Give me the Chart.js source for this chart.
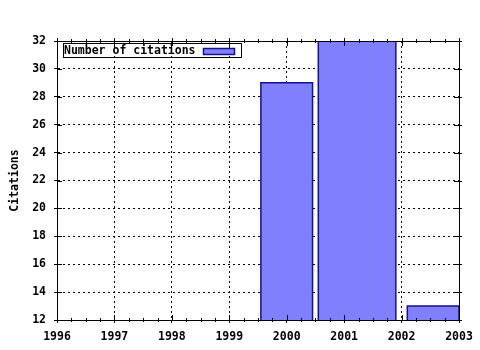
<!DOCTYPE html>
<html>
<head>
<meta charset="utf-8">
<script src="https://cdn.jsdelivr.net/npm/chart.js@4"></script>
<style>
  html, body { margin: 0; padding: 0; background: #fff; }
  #wrap { width: 480px; height: 350px; }
</style>
</head>
<body>
<div id="wrap"><canvas id="chart"></canvas></div>
<script>
// citation counts, boxes run from barStart to barEnd (years)
const barStart = [1999.55, 2000.55, 2002.1];
const barEnd = [2000.45, 2001.9, 2003];
const citations = [29, 32, 13];

const yearTicks = [1996, 1997, 1998, 1999, 2000, 2001, 2002, 2003];
const citationTicks = [12, 14, 16, 18, 20, 22, 24, 26, 28, 30, 32];

const seriesLabel = 'Number of citations';
const yTitle = 'Citations';

const FONT = '"DejaVu Sans Mono", monospace';
const fillColor = '#8080ff';
const edgeColor = '#12128c';

const yMin = citationTicks[0];
const yMax = citationTicks[citationTicks.length - 1];

// each box becomes a closed outline filled down to the x axis
const datasets = citations.map((v, i) => ({
  label: seriesLabel,
  data: [
    { x: barStart[i], y: yMin },
    { x: barStart[i], y: v },
    { x: barEnd[i], y: v },
    { x: barEnd[i], y: yMin }
  ],
  borderColor: edgeColor,
  backgroundColor: fillColor,
  borderWidth: 1.5,
  pointRadius: 0,
  tension: 0,
  fill: { value: yMin }
}));

// frame, mirrored + minor ticks, and the boxed key
const gnuFrame = {
  id: 'gnuFrame',
  afterDatasetsDraw(chart) {
    const { ctx, chartArea: a, scales } = chart;
    const xs = scales.x, ys = scales.y;
    ctx.save();
    ctx.strokeStyle = '#000';
    ctx.lineWidth = 1;
    ctx.setLineDash([]);
    ctx.strokeRect(Math.round(a.left) + 0.5, Math.round(a.top) + 0.5,
      Math.round(a.right - a.left), Math.round(a.bottom - a.top));

    ctx.beginPath();
    // x major ticks (inward, both sides) and quarter-year minor ticks
    yearTicks.forEach((t, k) => {
      const px = Math.round(xs.getPixelForValue(t)) + 0.5;
      ctx.moveTo(px, a.bottom); ctx.lineTo(px, a.bottom - 5);
      ctx.moveTo(px, a.top - 3); ctx.lineTo(px, a.top + 5);
      if (k < yearTicks.length - 1) {
        for (let q = 1; q < 4; q++) {
          const mx = Math.round(xs.getPixelForValue(t + q / 4)) + 0.5;
          ctx.moveTo(mx, a.bottom + 2); ctx.lineTo(mx, a.bottom - 2);
          ctx.moveTo(mx, a.top - 2); ctx.lineTo(mx, a.top + 2);
        }
      }
    });
    citationTicks.forEach(t => {
      const py = Math.round(ys.getPixelForValue(t)) + 0.5;
      ctx.moveTo(a.left, py); ctx.lineTo(a.left + 5, py);
      ctx.moveTo(a.right - 5, py); ctx.lineTo(a.right + 3, py);
    });
    ctx.stroke();

    // key box
    const kx = Math.round(a.left) + 6.5, ky = Math.round(a.top) + 2.5;
    ctx.font = 'bold 11.5px ' + FONT;
    ctx.fillStyle = '#000';
    ctx.textBaseline = 'middle';
    ctx.textAlign = 'left';
    ctx.fillText(seriesLabel, kx + 0.5, ky + 7.5);
    const tw = ctx.measureText(seriesLabel).width;
    const sx = Math.round(kx + tw + 8) + 0.5;
    ctx.fillStyle = fillColor;
    ctx.fillRect(sx, ky + 5, 31, 6);
    ctx.strokeStyle = edgeColor;
    ctx.lineWidth = 1.5;
    ctx.strokeRect(sx, ky + 5, 31, 6);
    ctx.strokeStyle = '#000';
    ctx.lineWidth = 1;
    ctx.strokeRect(kx, ky, 178, 14);
    ctx.restore();
  }
};

new Chart(document.getElementById('chart'), {
  type: 'line',
  data: { datasets },
  options: {
    responsive: true,
    maintainAspectRatio: false,
    animation: false,
    layout: { padding: { top: 41, right: 21, left: 0, bottom: 0 } },
    plugins: {
      legend: { display: false },
      tooltip: { enabled: false }
    },
    scales: {
      x: {
        type: 'linear',
        min: yearTicks[0],
        max: yearTicks[yearTicks.length - 1],
        afterBuildTicks: s => { s.ticks = yearTicks.map(v => ({ value: v })); },
        afterFit: s => { s.height = 30; },
        ticks: {
          callback: v => String(v),
          color: '#000',
          font: { family: FONT, size: 11.5, weight: 'bold' },
          padding: 7,
          maxRotation: 0,
          autoSkip: false
        },
        grid: { color: '#000', lineWidth: 1, tickLength: 3, tickColor: '#000' },
        border: { display: true, color: '#000', dash: [2, 3] }
      },
      y: {
        min: yMin,
        max: yMax,
        afterBuildTicks: s => { s.ticks = citationTicks.map(v => ({ value: v })); },
        afterFit: s => { s.width = 57; },
        ticks: {
          color: '#000',
          font: { family: FONT, size: 11.5, weight: 'bold' },
          padding: 8
        },
        title: {
          display: true,
          text: yTitle,
          color: '#000',
          font: { family: FONT, size: 11.5, weight: 'bold' },
          padding: { top: 8, bottom: 0 }
        },
        grid: { color: '#000', lineWidth: 1, tickLength: 3, tickColor: '#000' },
        border: { display: true, color: '#000', dash: [2, 3] }
      }
    }
  },
  plugins: [gnuFrame]
});
</script>
</body>
</html>
